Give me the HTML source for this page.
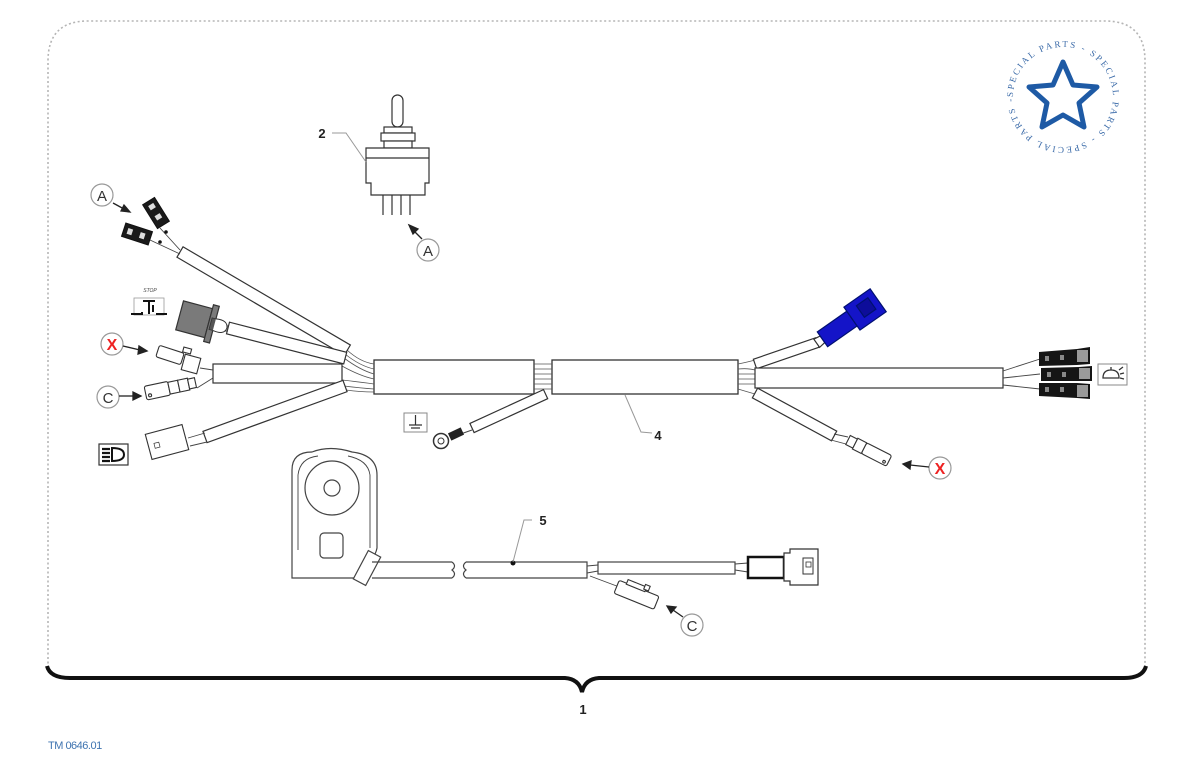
<!DOCTYPE html>
<html><head><meta charset="utf-8"><style>
html,body{margin:0;padding:0;background:#fff;}
svg{display:block;}
text{font-family:"Liberation Sans",sans-serif;}
text.serif{font-family:"Liberation Serif",serif;}
</style></head><body>
<svg width="1200" height="777" viewBox="0 0 1200 777" xmlns="http://www.w3.org/2000/svg">
<defs>
<path id="circ" d="M1013,97 A50,50 0 1,1 1113,97 A50,50 0 1,1 1013,97"/>
</defs>
<!-- dotted border -->
<path d="M48,668 L48,61 Q48,21 88,21 L1105,21 Q1145,21 1145,61 L1145,668" fill="none" stroke="#b5b5b5" stroke-width="1.6" stroke-dasharray="2 2.5"/>
<!-- bracket -->
<path d="M47,666 Q50,678 70,678 L565,678 Q579,679 582,692 Q585,679 599,678 L1124,678 Q1143,678 1146,666" fill="none" stroke="#111" stroke-width="4"/>
<text x="583" y="714" font-size="13" font-weight="bold" text-anchor="middle" fill="#222">1</text>
<text x="48" y="749" font-size="11" fill="#3f74b0" letter-spacing="-0.5">TM 0646.01</text>

<!-- special parts logo -->
<text class="serif" font-size="9" fill="#3a6aa8"><textPath href="#circ" textLength="312" lengthAdjust="spacing">SPECIAL PARTS - SPECIAL PARTS - SPECIAL PARTS - </textPath></text>
<polygon points="1063,62 1073,85 1097,87 1079,103 1084,127 1063,115 1042,127 1047,103 1029,87 1053,85" fill="none" stroke="#1e5aa5" stroke-width="5" stroke-linejoin="round"/>

<g fill="#fff" stroke="#333" stroke-width="1.2">
<!-- toggle switch (2) -->
<rect x="392" y="95" width="11" height="32" rx="5.5"/>
<rect x="384" y="127" width="28" height="6"/>
<rect x="381" y="133" width="34" height="8"/>
<rect x="384" y="141" width="28" height="7"/>
<path d="M366,148 L429,148 L429,183 L425,183 L425,195 L371,195 L371,183 L366,183 Z"/>
<line x1="366" y1="158" x2="429" y2="158"/>
<line x1="383" y1="195" x2="383" y2="215"/>
<line x1="392" y1="195" x2="392" y2="215"/>
<line x1="401" y1="195" x2="401" y2="215"/>
<line x1="410" y1="195" x2="410" y2="215"/>
</g>
<path d="M332,133 L346,133 L366,162" fill="none" stroke="#999" stroke-width="1"/>
<text x="322" y="138" font-size="13" font-weight="bold" fill="#222" text-anchor="middle">2</text>

<!-- main bundle -->
<g fill="#fff" stroke="#333" stroke-width="1.3">
<rect x="374" y="360" width="160" height="34"/>
<rect x="552" y="360" width="186" height="34"/>
</g>
<g stroke="#555" stroke-width="0.8" fill="none">
<path d="M534,364 L552,364 M534,369 L552,369 M534,374 L552,374 M534,379 L552,379 M534,384 L552,384 M534,389 L552,389"/>
<path d="M347,350 Q360,362 374,364 M345,354 Q360,366 374,369 M344,358 Q360,370 374,374 M342,366 Q360,376 374,379 M342,380 Q360,382 374,384 M344,386 Q360,388 374,389 M346,390 Q360,392 374,392"/>
<path d="M738,364 Q748,362 755,360 M738,369 Q748,368 755,370 M738,374 L755,374 M738,379 L755,379 M738,384 L755,384 M738,389 Q748,392 755,394"/>
</g>

<!-- left branches -->
<g fill="#fff" stroke="#333" stroke-width="1.2">
<rect x="0" y="-6" width="194" height="12" transform="translate(180,252) rotate(30.4)"/>
<rect x="0" y="-6" width="121" height="12" transform="translate(228,328) rotate(14.4)"/>
<rect x="213" y="364" width="129" height="19"/>
<rect x="0" y="-6" width="149" height="12" transform="translate(205,437) rotate(-20)"/>
</g>
<g stroke="#444" stroke-width="0.9" fill="none">
<path d="M180,250 L160,228 M180,254 L150,240"/>
<path d="M218,325 L228,326 M218,331 L228,331"/>
<path d="M200,368 L213,370 M197,388 L213,378"/>
<path d="M188,438 L205,433 M190,446 L207,442"/>
</g>
<circle cx="166" cy="232" r="1.8" fill="#111"/>
<circle cx="160" cy="242" r="1.8" fill="#111"/>
<g fill="#1a1a1a" stroke="#111" stroke-width="1">
<rect x="-7" y="-14" width="14" height="28" transform="translate(156,213) rotate(-32)"/>
<rect x="-14" y="-7" width="28" height="14" transform="translate(137,234) rotate(18)"/>
</g>
<g fill="#ddd" stroke="none">
<rect x="-3" y="-10" width="6" height="5" transform="translate(156,213) rotate(-32)"/>
<rect x="-3" y="2" width="6" height="5" transform="translate(156,213) rotate(-32)"/>
<rect x="-10" y="-3" width="5" height="6" transform="translate(137,234) rotate(18)"/>
<rect x="3" y="-3" width="5" height="6" transform="translate(137,234) rotate(18)"/>
</g>
<g transform="translate(197,320) rotate(15)">
<rect x="-18" y="-15" width="30" height="30" fill="#7a7a7a" stroke="#333" stroke-width="1.2"/>
<rect x="12" y="-19" width="6" height="38" fill="#7a7a7a" stroke="#333" stroke-width="1.2"/>
<rect x="14" y="-6" width="5" height="12" fill="#555" stroke="#333" stroke-width="0.8"/>
<path d="M18,-6 Q30,-8 31,0 Q30,8 18,6" fill="#fff" stroke="#333" stroke-width="1"/>
</g>
<g fill="#fff" stroke="#333" stroke-width="1.1">
<rect x="-13" y="-6" width="26" height="12" rx="2" transform="translate(170,355) rotate(18)"/>
<rect x="-8" y="-8" width="16" height="16" transform="translate(191,364) rotate(15)"/>
<rect x="-4" y="-3" width="8" height="5" transform="translate(187,351) rotate(15)"/>
</g>
<g fill="#fff" stroke="#333" stroke-width="1.1" transform="translate(170,388) rotate(-12)">
<rect x="-25" y="-7" width="24" height="14" rx="2"/>
<rect x="-1" y="-6" width="10" height="12"/>
<rect x="9" y="-6" width="10" height="12"/>
<rect x="19" y="-5" width="7" height="10"/>
<circle cx="-21" cy="3" r="1.5"/>
</g>
<g fill="#fff" stroke="#333" stroke-width="1.1" transform="translate(167,442) rotate(-15)">
<rect x="-19" y="-13" width="38" height="26"/>
<rect x="-13" y="-2" width="5" height="5" stroke-width="0.7"/>
</g>
<rect x="134" y="298" width="30" height="17" fill="none" stroke="#999" stroke-width="0.8"/>
<text x="150" y="292" font-size="5" fill="#444" text-anchor="middle" font-style="italic">STOP</text>
<path d="M131,314 L142,314 L142,312 M143,301 L155,301 M149,301 L149,314 M153,305 L153,312 M156,314 L167,314" fill="none" stroke="#111" stroke-width="2"/>
<rect x="99" y="444" width="29" height="21" fill="#fff" stroke="#333" stroke-width="1.2"/>
<path d="M112,448 L112,461 Q124,461 124,454.5 Q124,448 112,448 Z" fill="#fff" stroke="#111" stroke-width="2"/>
<path d="M102,449 L110,449 M102,453 L110,453 M102,457 L110,457 M102,461 L110,461" stroke="#111" stroke-width="2.2"/>

<g fill="#fff" stroke="#999" stroke-width="1.2">
<circle cx="102" cy="195" r="11"/>
<circle cx="428" cy="250" r="11"/>
<circle cx="112" cy="344" r="11"/>
<circle cx="108" cy="397" r="11"/>
<circle cx="940" cy="468" r="11"/>
<circle cx="692" cy="625" r="11"/>
</g>
<g font-size="15" text-anchor="middle" fill="#333">
<text x="102" y="201">A</text>
<text x="428" y="256">A</text>
<text x="108" y="403">C</text>
<text x="692" y="631">C</text>
</g>
<g font-size="16" font-weight="bold" text-anchor="middle" fill="#e22">
<text x="112" y="350">X</text>
<text x="940" y="474">X</text>
</g>
<g stroke="#222" stroke-width="1.3" fill="#222">
<line x1="113" y1="203" x2="124" y2="209"/><polygon points="130,212 121,211 124,205"/>
<line x1="422" y1="239" x2="414" y2="231"/><polygon points="409,225 418,229 413,234"/>
<line x1="123" y1="346" x2="140" y2="350"/><polygon points="147,351 138,354 139,346"/>
<line x1="119" y1="396" x2="134" y2="396"/><polygon points="141,396 133,400 133,392"/>
<line x1="929" y1="467" x2="910" y2="465"/><polygon points="903,464 911,461 910,469"/>
<line x1="683" y1="617" x2="673" y2="610"/><polygon points="667,606 676,607 671,613"/>
</g>

<rect x="404" y="413" width="23" height="19" fill="#fff" stroke="#888" stroke-width="1"/>
<path d="M415.5,415 L415.5,425 M409,425 L422,425 M411,428 L420,428" stroke="#333" stroke-width="1.2" fill="none"/>
<rect x="0" y="-5" width="81" height="10" fill="#fff" stroke="#333" stroke-width="1.2" transform="translate(472,428) rotate(-24.7)"/>
<path d="M455,436 L472,430" stroke="#444" stroke-width="1"/>
<circle cx="441" cy="441" r="7.5" fill="#fff" stroke="#333" stroke-width="1.5"/>
<circle cx="441" cy="441" r="3" fill="#fff" stroke="#333" stroke-width="1"/>
<rect x="-7" y="-4" width="14" height="8" fill="#222" transform="translate(456,434) rotate(-25)"/>
<path d="M625,395 L641,432 L652,433" fill="none" stroke="#999" stroke-width="1"/>
<text x="658" y="440" font-size="13" font-weight="bold" fill="#222" text-anchor="middle">4</text>

<g fill="#fff" stroke="#333" stroke-width="1.2">
<rect x="0" y="-5" width="66" height="10" transform="translate(755,364) rotate(-19)"/>
<rect x="755" y="368" width="248" height="20"/>
<rect x="0" y="-5.5" width="90" height="11" transform="translate(755,393) rotate(28.5)"/>
</g>
<g transform="translate(820,341) rotate(-35)" stroke="#001070" stroke-width="1.2">
<path d="M-4,-5 L3,-4 L3,4 L-4,5 Z" fill="#fff" stroke="#333"/>
<rect x="3" y="-9" width="36" height="18" fill="#1414c8"/>
<rect x="39" y="-14" width="32" height="28" fill="#1414c8"/>
<rect x="50" y="-8" width="14" height="14" fill="#0d0d9a"/>
</g>
<g stroke="#444" stroke-width="0.9">
<line x1="1003" y1="371" x2="1040" y2="359"/>
<line x1="1003" y1="378" x2="1040" y2="374"/>
<line x1="1003" y1="385" x2="1040" y2="389"/>
</g>
<g fill="#151515">
<polygon points="1039,352 1077,349 1090,347 1090,364 1077,365 1039,366"/>
<polygon points="1041,368 1079,367 1092,366 1092,381 1079,381 1041,381"/>
<polygon points="1039,383 1077,383 1090,384 1090,399 1077,398 1039,396"/>
</g>
<g fill="#9a9a9a">
<rect x="1077" y="350" width="11" height="12"/>
<rect x="1079" y="368" width="11" height="11"/>
<rect x="1077" y="385" width="11" height="12"/>
</g>
<g fill="#888">
<rect x="1045" y="356" width="4" height="5"/><rect x="1060" y="355" width="4" height="5"/>
<rect x="1047" y="372" width="4" height="5"/><rect x="1062" y="372" width="4" height="5"/>
<rect x="1045" y="387" width="4" height="5"/><rect x="1060" y="387" width="4" height="5"/>
</g>
<rect x="1098" y="364" width="29" height="21" fill="#fff" stroke="#888" stroke-width="1"/>
<path d="M1103,378 Q1103,370 1111,370 Q1119,370 1119,378 Z M1111,370 L1111,367 M1119,370 L1123,367 M1120,374 L1124,373 M1120,378 L1124,379" fill="none" stroke="#333" stroke-width="1.3"/>
<g stroke="#444" stroke-width="0.9"><line x1="834" y1="434" x2="848" y2="437"/><line x1="831" y1="440" x2="846" y2="444"/></g>
<g fill="#fff" stroke="#333" stroke-width="1.1" transform="translate(848,440) rotate(27)">
<rect x="0" y="-5" width="8" height="10"/>
<rect x="8" y="-6" width="10" height="12"/>
<rect x="18" y="-6" width="28" height="12" rx="2"/>
<circle cx="42" cy="3" r="1.3"/>
</g>

<g fill="#fff" stroke="#444" stroke-width="1.2">
<path d="M292,578 L292,470 Q292,452 312,452 Q330,445 352,452 Q377,455 377,475 L377,548 Q375,560 356,575 L356,578 Z"/>
<path d="M298,550 L298,475 Q300,458 318,456 M370,548 L370,475 Q368,460 348,456" fill="none" stroke-width="0.9"/>
<circle cx="332" cy="488" r="27"/>
<circle cx="332" cy="488" r="8"/>
<rect x="320" y="533" width="23" height="25" rx="4"/>
<rect x="-16" y="-7" width="32" height="14" transform="translate(367,568) rotate(-62)"/>
</g>
<g fill="none" stroke="#444" stroke-width="1.2">
<path d="M372,562 L452,562 M372,578 L452,578"/>
<path d="M452,562 Q457,566 452,570 Q457,574 452,578"/>
<path d="M466,562 Q461,566 466,570 Q461,574 466,578"/>
<path d="M466,562 L587,562 L587,578 L466,578"/>
</g>
<circle cx="513" cy="563" r="2.5" fill="#111"/>
<path d="M513,562 L524,520 L532,520" fill="none" stroke="#999" stroke-width="1"/>
<text x="543" y="525" font-size="13" font-weight="bold" fill="#222" text-anchor="middle">5</text>
<g stroke="#444" stroke-width="0.9" fill="none">
<path d="M587,566 L598,565 M587,573 L598,571 M590,576 L622,588"/>
<path d="M735,564 L748,563 M735,570 L748,572"/>
</g>
<rect x="598" y="562" width="137" height="12" fill="#fff" stroke="#444" stroke-width="1.2"/>
<rect x="748" y="557" width="36" height="21" fill="#fff" stroke="#111" stroke-width="2.5"/>
<path d="M784,553 L790,553 L790,549 L818,549 L818,585 L790,585 L790,581 L784,581 Z" fill="#fff" stroke="#333" stroke-width="1.2"/>
<rect x="803" y="558" width="10" height="16" fill="#fff" stroke="#333" stroke-width="1"/>
<rect x="806" y="562" width="5" height="5" fill="#fff" stroke="#333" stroke-width="0.8"/>
<g fill="#fff" stroke="#333" stroke-width="1.1" transform="translate(637,595) rotate(22)">
<rect x="-22" y="-7" width="43" height="14" rx="2"/>
<rect x="-14" y="-11" width="20" height="5"/>
<rect x="4" y="-13" width="5" height="5"/>
</g>
</svg>
</body></html>
